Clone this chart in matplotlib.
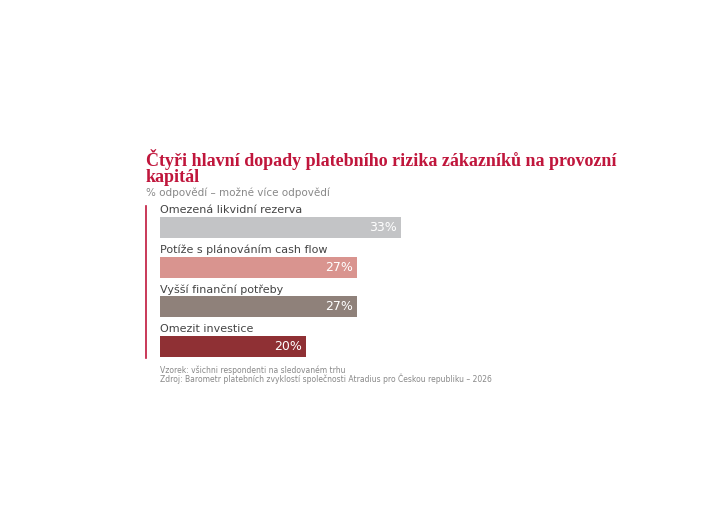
import matplotlib
matplotlib.use("Agg")
import matplotlib.pyplot as plt
from matplotlib.lines import Line2D

categories = ["Omezená likvidní rezerva", "Potíže s plánováním cash flow",
              "Vyšší finanční potřeby", "Omezit investice"]
values = [33, 27, 27, 20]
colors = ["#c3c4c6", "#d9948f", "#8f817a", "#8f3034"]

W, H = 720, 530
fig = plt.figure(figsize=(7.2, 5.3), dpi=100)

def fx(px):
    return px / W

def fy(py):
    return 1 - py / H

# osa s pruhy
top, bottom = 207, 358
ax = fig.add_axes([fx(160), fy(bottom), fx(7.3 * 40), (bottom - top) / H])
ys = list(range(len(values)))
ax.barh(ys, values, height=0.53, color=colors)
ax.set_xlim(0, 40)
ax.set_ylim(3.29, -0.52)
ax.axis("off")

for y, cat, v in zip(ys, categories, values):
    ax.text(0, y - 0.44, cat, ha="left", va="center", fontsize=8, color="#444444")
    ax.text(v - 0.5, y, f"{v}%", ha="right", va="center", fontsize=9, color="white")

# svislá červená čára vlevo
fig.add_artist(Line2D([fx(146), fx(146)], [fy(206), fy(358)], color="#c0163c", lw=1.2))

title_font = ["Liberation Serif", "DejaVu Serif"]
fig.text(fx(146), fy(160), "Čtyři hlavní dopady platebního rizika zákazníků na provozní",
         fontsize=13, fontweight="bold", color="#c0163c", va="center", family=title_font)
fig.text(fx(146), fy(177), "kapitál", fontsize=13, fontweight="bold", color="#c0163c",
         va="center", family=title_font)
fig.text(fx(146), fy(193), "% odpovědí – možné více odpovědí", fontsize=7.5, color="#888888", va="center")

fig.text(fx(160), fy(370), "Vzorek: všichni respondenti na sledovaném trhu",
         fontsize=5.5, color="#888888", va="center")
fig.text(fx(160), fy(379), "Zdroj: Barometr platebních zvyklostí společnosti Atradius pro Českou republiku – 2026",
         fontsize=5.5, color="#888888", va="center")

fig.savefig("out.png", dpi=100, facecolor="white")
